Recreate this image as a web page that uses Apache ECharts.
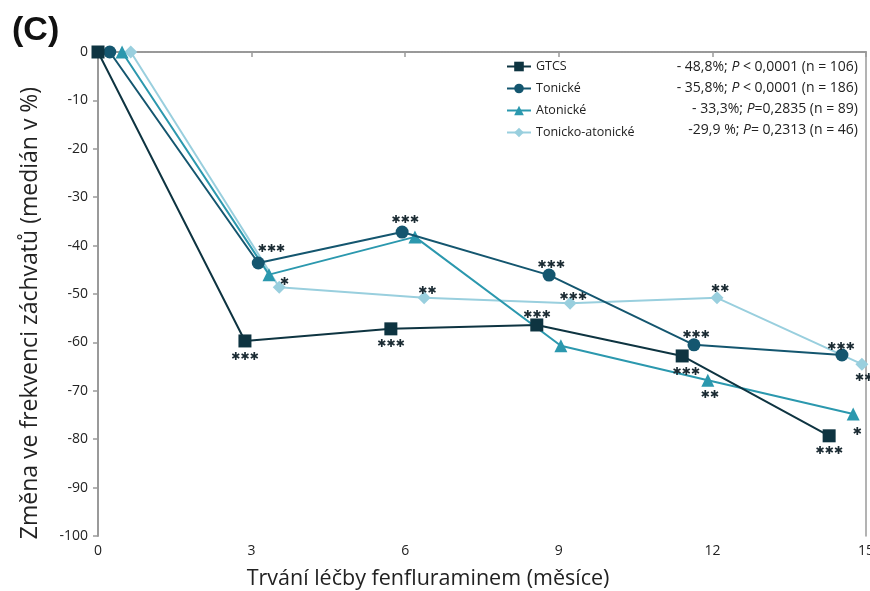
<!DOCTYPE html>
<html>
<head>
<meta charset="utf-8">
<script src="https://cdn.jsdelivr.net/npm/echarts@6/dist/echarts.min.js"></script>
<style>
html,body{margin:0;padding:0;background:#fff;}
#c{width:870px;height:591px;}
</style>
</head>
<body>
<div id="c"></div>
<script>
// ---- data ----
const seriesNames = ['GTCS', 'Tonické', 'Atonické', 'Tonicko-atonické'];
const statsPrefix = ['- 48,8%; ', '- 35,8%; ', '- 33,3%; ', '-29,9 %; '];
const statsSuffix = [' < 0,0001 (n = 106)', ' < 0,0001 (n = 186)', '=0,2835 (n = 89)', '= 0,2313 (n = 46)'];

const gtcsX = [0, 2.87, 5.72, 8.57, 11.41, 14.28];
const gtcsY = [0, -59.7, -57.2, -56.4, -62.8, -79.3];
const tonX = [0.23, 3.13, 5.94, 8.81, 11.64, 14.53];
const tonY = [0, -43.6, -37.2, -46.1, -60.5, -62.6];
const atoX = [0.47, 3.34, 6.19, 9.04, 11.91, 14.75];
const atoY = [0, -46.0, -38.2, -60.7, -67.8, -74.8];
const taX = [0.64, 3.54, 6.37, 9.22, 12.09, 14.92];
const taY = [0, -48.6, -50.8, -51.9, -50.8, -64.5];

const gtcsSig = ['', '***', '***', '***', '***', '***'];
const tonSig = ['', '***', '***', '***', '***', '***'];
const atoSig = ['', '', '', '', '**', '*'];
const taSig = ['', '*', '**', '***', '**', '**'];

const xTicks = [0, 3, 6, 9, 12, 15];
const yTicks = [0, -10, -20, -30, -40, -50, -60, -70, -80, -90, -100];

// ---- styles ----
const colors = ['#0e3441', '#14566f', '#2b98ae', '#99cfde'];
const symbols = ['rect', 'circle', 'triangle', 'diamond'];
const symbolSizes = [13, 13, 13, 13];
const labelOffsets = [
  [null, [0, 16], [0, 15], [0, -10], [4, 16], [0, 15]],
  [null, [13, -14], [3, -12], [2, -10], [2, -10], [-1, -8]],
  [null, null, null, null, [2, 15], [4, 18]],
  [null, [5, -5], [3, -7], [3, -6], [3, -9], [2, 14]]
];
const FONT = '"Open Sans", sans-serif';

const xs = [gtcsX, tonX, atoX, taX];
const ys = [gtcsY, tonY, atoY, taY];
const sigs = [gtcsSig, tonSig, atoSig, taSig];

function starText(s) { return s.replace(/\*/g, '✱'); }

const series = seriesNames.map((name, si) => ({
  name: name,
  type: 'line',
  symbol: symbols[si],
  symbolSize: symbolSizes[si],
  z: 2 + (3 - si),
  lineStyle: { color: colors[si], width: 2 },
  itemStyle: { color: colors[si] },
  data: xs[si].map((x, i) => {
    const d = { value: [x, ys[si][i]] };
    if (sigs[si][i]) {
      d.label = {
        show: true,
        position: 'inside',
        offset: labelOffsets[si][i],
        formatter: starText(sigs[si][i]),
        color: '#1b2b33',
        fontSize: 11,
        fontFamily: 'DejaVu Sans'
      };
    }
    return d;
  }),
  label: { show: false }
}));

const chart = echarts.init(document.getElementById('c'), null, { renderer: 'canvas' });

const legendTop = 55, legendGap = 9, legendH = 12;
const graphics = [
  { type: 'text', left: 12, top: 14, style: { text: '(C)', font: 'bold 34px "Liberation Sans", Arial, sans-serif', fill: '#111' } }
];
seriesNames.forEach((n, i) => {
  graphics.push({
    type: 'text',
    right: 12,
    top: 60 + i * (legendH + legendGap),
    style: {
      text: statsPrefix[i] + '{i|P}' + statsSuffix[i],
      font: '14px ' + FONT,
      fill: '#222',
      rich: { i: { fontStyle: 'italic', fontSize: 14, fontFamily: 'Open Sans', fill: '#222' } }
    }
  });
});

chart.setOption({
  animation: false,
  backgroundColor: '#fff',
  grid: { left: 98, right: 4, top: 52, bottom: 55, containLabel: false, outerBoundsMode: 'none' },
  legend: {
    orient: 'vertical',
    left: 501,
    top: legendTop,
    itemGap: legendGap,
    itemWidth: 24,
    itemHeight: legendH,
    data: seriesNames,
    textStyle: { fontFamily: FONT, fontSize: 12.5, color: '#222' }
  },
  xAxis: [{
    type: 'value',
    min: xTicks[0], max: xTicks[xTicks.length - 1], interval: 3,
    name: 'Trvání léčby fenfluraminem (měsíce)',
    nameLocation: 'middle',
    nameGap: 32,
    nameTextStyle: { fontFamily: FONT, fontSize: 21.5, color: '#222', padding: [0, 108, 0, 0] },
    axisLine: { show: true, lineStyle: { color: '#9a9a9a', width: 2 } },
    axisTick: { show: true, length: 5, lineStyle: { color: '#9a9a9a', width: 1.5 } },
    axisLabel: { fontFamily: FONT, fontSize: 14, color: '#222', margin: 8 },
    splitLine: { show: false }
  }, {
    type: 'value', position: 'top', min: 0, max: 15,
    axisLine: { show: true, onZero: false, lineStyle: { color: '#9a9a9a', width: 1.5, type: 'dotted' } },
    axisTick: { show: false }, axisLabel: { show: false }, splitLine: { show: false }
  }],
  yAxis: [{
    type: 'value',
    min: yTicks[yTicks.length - 1], max: yTicks[0], interval: 10,
    name: 'Změna ve frekvenci záchvatů (medián v %)',
    nameLocation: 'middle',
    nameGap: 56,
    nameTextStyle: { fontFamily: FONT, fontSize: 23, color: '#222', padding: [0, 38, 0, 0] },
    axisLine: { show: true, onZero: false, lineStyle: { color: '#9a9a9a', width: 2 } },
    axisTick: { show: true, length: 5, lineStyle: { color: '#9a9a9a', width: 1.5 } },
    axisLabel: { fontFamily: FONT, fontSize: 14, color: '#222', margin: 10 },
    splitLine: { show: false }
  }, {
    type: 'value', position: 'right', min: -100, max: 0,
    axisLine: { show: true, onZero: false, lineStyle: { color: '#9a9a9a', width: 1.5 } },
    axisTick: { show: false }, axisLabel: { show: false }, splitLine: { show: false }
  }],
  graphic: graphics,
  series: series
});
</script>
</body>
</html>
